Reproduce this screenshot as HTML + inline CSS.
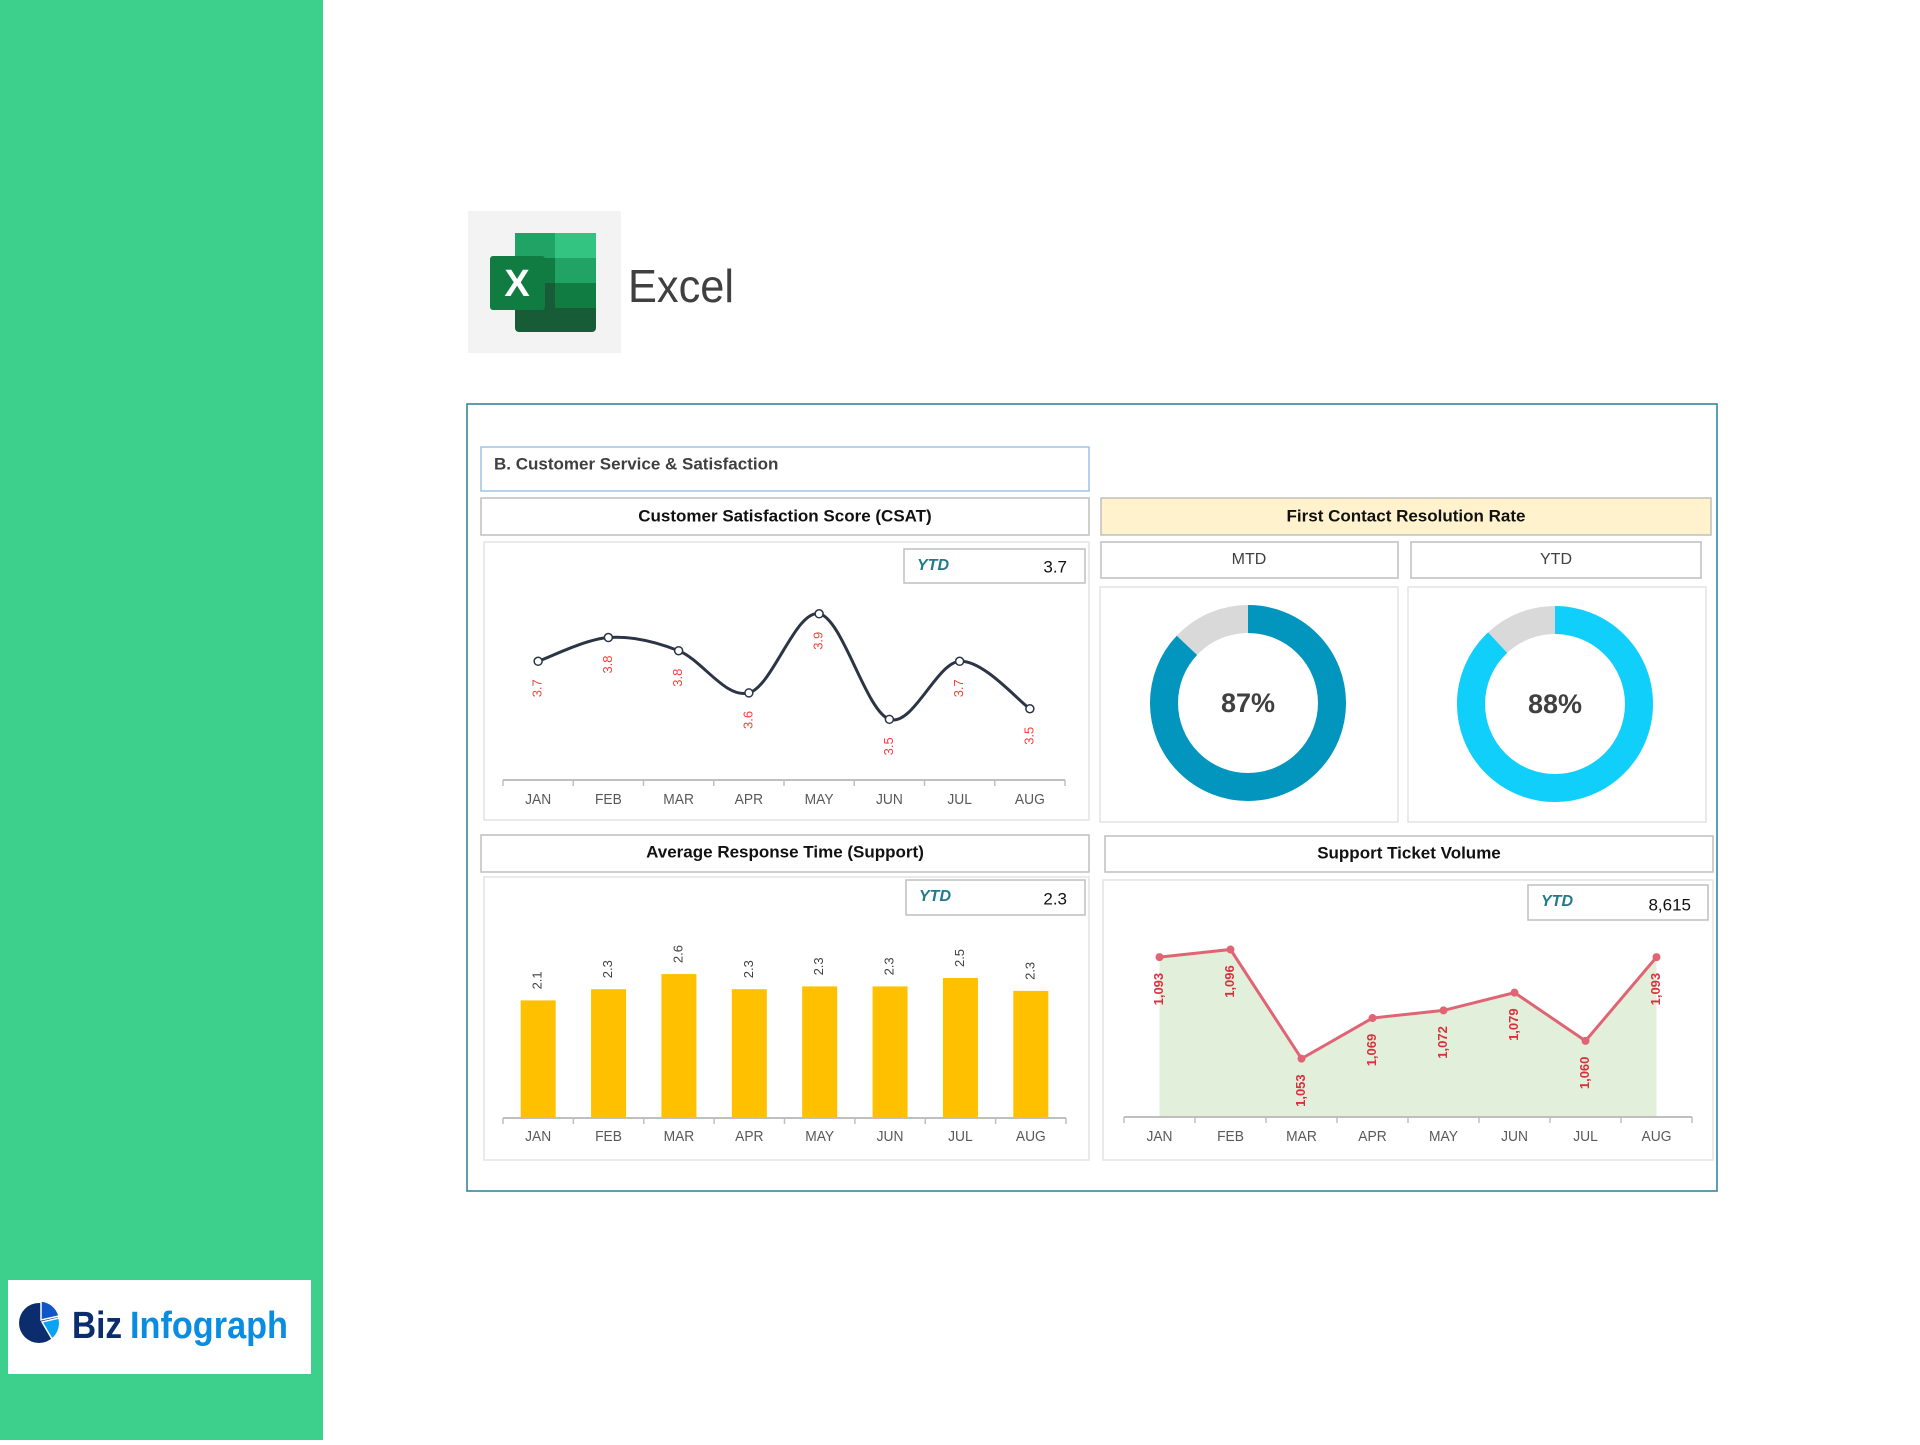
<!DOCTYPE html>
<html><head><meta charset="utf-8"><style>
html,body{margin:0;padding:0;background:#fff;}
body{width:1920px;height:1440px;overflow:hidden;position:relative;font-family:"Liberation Sans",sans-serif;}
svg text{font-family:"Liberation Sans",sans-serif;}
</style></head><body>
<svg id="page" width="1920" height="1440" viewBox="0 0 1920 1440" xmlns="http://www.w3.org/2000/svg">
  <rect x="0" y="0" width="323" height="1440" fill="#3cd08c"/>
  <g>
    <rect x="8" y="1280" width="303" height="94" fill="#fff"/>
    <circle cx="39" cy="1323" r="20" fill="#0b2d6e"/>
    <path d="M41,1301 A20,20 0 0 1 59,1316 L41,1320 Z" fill="#1155c8" stroke="#fff" stroke-width="1.5"/>
    <path d="M59,1318 A20,20 0 0 1 52,1339 L42,1322 Z" fill="#0aa2f5" stroke="#fff" stroke-width="1.5"/>
    <text x="72" y="1338" font-size="38" font-weight="bold" fill="#0b2d6e" textLength="50" lengthAdjust="spacingAndGlyphs">Biz</text>
    <text x="130" y="1338" font-size="38" font-weight="bold" fill="#0a8de0" textLength="158" lengthAdjust="spacingAndGlyphs">Infograph</text>
  </g>
  <g>
    <rect x="468" y="211" width="153" height="142" fill="#f3f3f3"/>
    <rect x="515" y="233" width="81" height="99" rx="4" fill="#185c37"/>
    <rect x="515" y="233" width="81" height="25" fill="#21a366"/>
    <rect x="555" y="233" width="41" height="25" fill="#33c481"/>
    <rect x="515" y="258" width="81" height="25" fill="#107c41"/>
    <rect x="555" y="258" width="41" height="25" fill="#21a366"/>
    <rect x="515" y="283" width="81" height="25" fill="#185c37"/>
    <rect x="555" y="283" width="41" height="25" fill="#107c41"/>
    <rect x="490" y="256" width="55" height="54" rx="3" fill="#107c41"/>
    <text x="517" y="296" font-size="38" font-weight="bold" fill="#fff" text-anchor="middle">X</text>
  </g>
  <text x="628" y="302" font-size="46" fill="#404040" textLength="106" lengthAdjust="spacingAndGlyphs">Excel</text>

  <rect x="467" y="404" width="1250" height="787" fill="#fff" stroke="#2a7f95" stroke-width="1.5"/>
  <g>
    <rect x="481" y="447" width="608" height="44" fill="#fff" stroke="#9dc3e6" stroke-width="1.5"/>
    <text x="494" y="465" font-size="17" font-weight="bold" fill="#404040" dominant-baseline="middle">B. Customer Service &amp; Satisfaction</text>
  </g>

  <g>
    <rect x="481" y="498" width="608" height="37" fill="#fff" stroke="#bfbfbf" stroke-width="1.5"/>
    <text x="785" y="517" font-size="17" font-weight="bold" fill="#111" text-anchor="middle" dominant-baseline="middle">Customer Satisfaction Score (CSAT)</text>
  </g>
  <rect x="484" y="542" width="605" height="278" fill="#fff" stroke="#e3e3e3" stroke-width="1.5"/>
  <g>
    <rect x="904" y="549" width="181" height="34" fill="#fff" stroke="#bfbfbf" stroke-width="1.5"/>
    <text x="917" y="566" font-size="16" font-weight="bold" font-style="italic" fill="#1f7a8c" dominant-baseline="middle">YTD</text>
    <text x="1067" y="568" font-size="17" fill="#111" text-anchor="end" dominant-baseline="middle">3.7</text>
  </g>
  <g id="csat-chart"></g>

  <g>
    <rect x="1101" y="498" width="610" height="37" fill="#fff2cc" stroke="#bfbfbf" stroke-width="1.5"/>
    <text x="1406" y="517" font-size="17" font-weight="bold" fill="#111" text-anchor="middle" dominant-baseline="middle">First Contact Resolution Rate</text>
  </g>
  <g>
    <rect x="1101" y="542" width="297" height="36" fill="#fff" stroke="#bfbfbf" stroke-width="1.5"/>
    <text x="1249" y="560" font-size="16" fill="#404040" text-anchor="middle" dominant-baseline="middle">MTD</text>
  </g>
  <g>
    <rect x="1411" y="542" width="290" height="36" fill="#fff" stroke="#bfbfbf" stroke-width="1.5"/>
    <text x="1556" y="560" font-size="16" fill="#404040" text-anchor="middle" dominant-baseline="middle">YTD</text>
  </g>
  <rect x="1100" y="587" width="298" height="235" fill="#fff" stroke="#e3e3e3" stroke-width="1.5"/>
  <rect x="1408" y="587" width="298" height="235" fill="#fff" stroke="#e3e3e3" stroke-width="1.5"/>
  <g id="donuts"></g>

  <g>
    <rect x="481" y="835" width="608" height="37" fill="#fff" stroke="#bfbfbf" stroke-width="1.5"/>
    <text x="785" y="853" font-size="17" font-weight="bold" fill="#111" text-anchor="middle" dominant-baseline="middle">Average Response Time (Support)</text>
  </g>
  <rect x="484" y="877" width="605" height="283" fill="#fff" stroke="#e3e3e3" stroke-width="1.5"/>
  <g>
    <rect x="906" y="880" width="179" height="35" fill="#fff" stroke="#bfbfbf" stroke-width="1.5"/>
    <text x="919" y="897" font-size="16" font-weight="bold" font-style="italic" fill="#1f7a8c" dominant-baseline="middle">YTD</text>
    <text x="1067" y="900" font-size="17" fill="#111" text-anchor="end" dominant-baseline="middle">2.3</text>
  </g>
  <g id="art-chart"></g>

  <g>
    <rect x="1105" y="836" width="608" height="36" fill="#fff" stroke="#bfbfbf" stroke-width="1.5"/>
    <text x="1409" y="854" font-size="17" font-weight="bold" fill="#111" text-anchor="middle" dominant-baseline="middle">Support Ticket Volume</text>
  </g>
  <rect x="1103" y="880" width="610" height="280" fill="#fff" stroke="#e3e3e3" stroke-width="1.5"/>
  <g>
    <rect x="1528" y="885" width="180" height="35" fill="#fff" stroke="#bfbfbf" stroke-width="1.5"/>
    <text x="1541" y="902" font-size="16" font-weight="bold" font-style="italic" fill="#1f7a8c" dominant-baseline="middle">YTD</text>
    <text x="1691" y="906" font-size="17" fill="#111" text-anchor="end" dominant-baseline="middle">8,615</text>
  </g>
  <g id="stv-chart"></g>
</svg>
<script>
const months = ["JAN","FEB","MAR","APR","MAY","JUN","JUL","AUG"];
const csatValues = [3.72, 3.81, 3.76, 3.6, 3.9, 3.5, 3.72, 3.54];
const csatLabels = ["3.7","3.8","3.8","3.6","3.9","3.5","3.7","3.5"];
const artValues = [2.1, 2.3, 2.57, 2.3, 2.35, 2.35, 2.5, 2.27];
const artLabels = ["2.1","2.3","2.6","2.3","2.3","2.3","2.5","2.3"];
const ticketValues = [1093, 1096, 1053, 1069, 1072, 1079, 1060, 1093];
const ticketLabels = ["1,093","1,096","1,053","1,069","1,072","1,079","1,060","1,093"];
const fcrValues = [0.87, 0.88];
const fcrLabels = ["87%","88%"];

const NS = "http://www.w3.org/2000/svg";
function mk(tag, attrs, parent){const e=document.createElementNS(NS,tag);for(const k in attrs)e.setAttribute(k,attrs[k]);parent.appendChild(e);return e;}
function band(x0,x1,n){const w=(x1-x0)/n;return i=>x0+w*(i+0.5);}
function lin(d0,d1,r0,r1){return v=>r0+(v-d0)/(d1-d0)*(r1-r0);}
function axis(g,x0,x1,y,n,labelY){
  const ax=mk("line",{x1:x0,x2:x1,y1:y,y2:y,stroke:"#bfbfbf","stroke-width":2},g);
  
  
  const w=(x1-x0)/n;
  for(let k=0;k<=n;k++){
    const t=mk("line",{x1:x0+w*k,x2:x0+w*k,y1:y,y2:y+6,stroke:"#bfbfbf","stroke-width":1.5},g);
    
    
  }
  months.forEach((m,i)=>{
    const t=mk("text",{x:x0+w*(i+0.5),y:labelY,"font-size":15,fill:"#595959","text-anchor":"middle","dominant-baseline":"middle",transform:`translate(${x0+w*(i+0.5)},0) scale(0.92,1) translate(${-(x0+w*(i+0.5))},0)`},g);
    t.textContent=m;
    
    
  });
}
function vlabel(g,x,y,txt,color,size,bold){
  const t=mk("text",{x:0,y:0,transform:`translate(${x},${y}) rotate(-90)`,"font-size":size,fill:color,"text-anchor":"middle","dominant-baseline":"middle","font-weight":bold?"bold":"normal"},g);
  t.textContent=txt;
  return t;
}

(function(){
  const g=document.getElementById("csat-chart");
  const x=band(503,1065,months.length), y=lin(3.27,4.1,780,561);
  axis(g,503,1065,780,months.length,800);
  const pts=csatValues.map((v,i)=>[x(i),y(v)]);
  let d=`M${pts[0][0]},${pts[0][1]}`;
  for(let i=0;i<pts.length-1;i++){
    const p0=pts[i-1]||pts[i],p1=pts[i],p2=pts[i+1],p3=pts[i+2]||p2;
    const c1=[p1[0]+(p2[0]-p0[0])/6,p1[1]+(p2[1]-p0[1])/6];
    const c2=[p2[0]-(p3[0]-p1[0])/6,p2[1]-(p3[1]-p1[1])/6];
    d+=` C${c1[0]},${c1[1]} ${c2[0]},${c2[1]} ${p2[0]},${p2[1]}`;
  }
  const l=mk("path",{d:d,fill:"none",stroke:"#2b3545","stroke-width":3},g);
  
  
  pts.forEach((p,i)=>{
    const c=mk("circle",{cx:p[0],cy:p[1],r:4,fill:"#fff",stroke:"#2b3545","stroke-width":1.5},g);
    
    
    const t=vlabel(g,p[0],p[1]+27,csatLabels[i],"#ff3b3b",13,false);
    
    
  });
})();

(function(){
  const g=document.getElementById("donuts");
  const centers=[[1248,703],[1555,704]], colors=["#0296bf","#10d0fb"];
  fcrValues.forEach((v,i)=>{
    const [cx,cy]=centers[i], R=98, r=70, rm=(R+r)/2, sw=R-r, C=2*Math.PI*rm;
    const bg=mk("circle",{cx:cx,cy:cy,r:rm,fill:"none",stroke:"#d9d9d9","stroke-width":sw},g);
    
    
    const a=mk("circle",{cx:cx,cy:cy,r:rm,fill:"none",stroke:colors[i],"stroke-width":sw,"stroke-dasharray":`${C*v} ${C}`,transform:`rotate(-90 ${cx} ${cy})`},g);
    
    
    const t=mk("text",{x:cx,y:cy+2,"font-size":27,"font-weight":"bold",fill:"#404040","text-anchor":"middle","dominant-baseline":"middle"},g);
    t.textContent=fcrLabels[i];
    
    
  });
})();

(function(){
  const g=document.getElementById("art-chart");
  const x=band(503,1066,months.length), y=lin(0,3,1118,950);
  axis(g,503,1066,1118,months.length,1137);
  const bw=35;
  artValues.forEach((v,i)=>{
    const b=mk("rect",{x:x(i)-bw/2,y:y(v),width:bw,height:y(0)-y(v),fill:"#ffc000"},g);
    
    
    const t=vlabel(g,x(i),y(v)-20,artLabels[i],"#404040",13,false);
    
    
  });
})();

(function(){
  const g=document.getElementById("stv-chart");
  const x=band(1124,1692,months.length), y=lin(1030,1110,1117,914);
  const pts=ticketValues.map((v,i)=>[x(i),y(v)]);
  const area=mk("path",{d:`M${pts[0][0]},${y(1030)} `+pts.map(p=>`L${p[0]},${p[1]}`).join(" ")+` L${pts[pts.length-1][0]},${y(1030)} Z`,fill:"#e2efda"},g);
  
  
  axis(g,1124,1692,1117,months.length,1137);
  const l=mk("polyline",{points:pts.map(p=>p.join(",")).join(" "),fill:"none",stroke:"#e06474","stroke-width":3},g);
  
  
  pts.forEach((p,i)=>{
    const c=mk("circle",{cx:p[0],cy:p[1],r:4,fill:"#e06474"},g);
    
    
    const t=vlabel(g,p[0],p[1]+32,ticketLabels[i],"#d7313e",13,true);
    
    
  });
})();
</script>
</body></html>
